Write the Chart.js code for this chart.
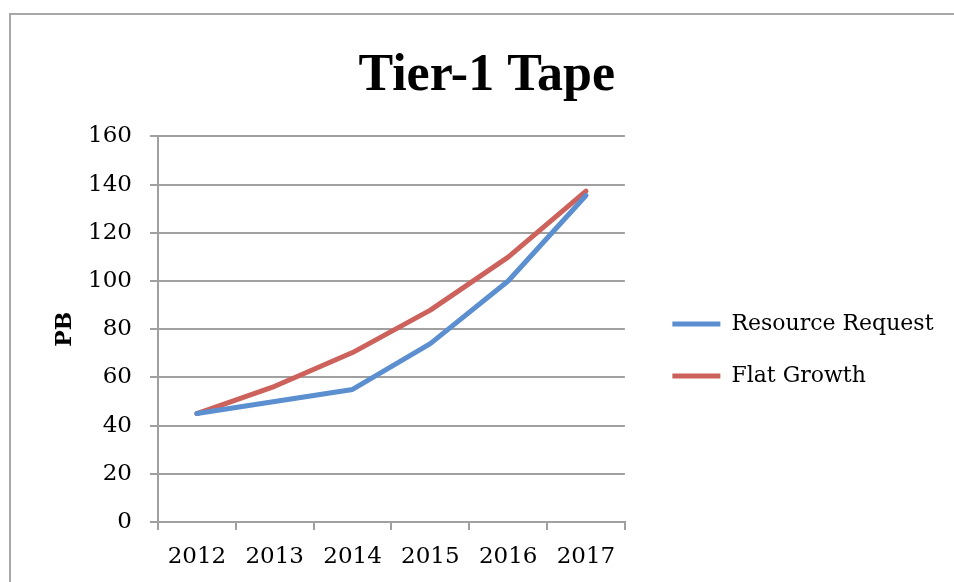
<!DOCTYPE html>
<html>
<head>
<meta charset="utf-8">
<script src="https://cdn.jsdelivr.net/npm/chart.js@4.4.0/dist/chart.umd.min.js"></script>
<style>
  html, body { margin: 0; padding: 0; background: #ffffff; overflow: hidden; }
  #frame { position: absolute; left: 9px; top: 13px; width: 1200px; height: 800px; border: 2px solid #a8a8a8; box-sizing: border-box; }
  #wrap { position: absolute; left: 0; top: 0; width: 954px; height: 582px; }
</style>
</head>
<body>
<div id="frame"></div>
<div id="wrap"><canvas id="c" width="954" height="582"></canvas></div>
<script>
const chartTitle = "Tier-1 Tape";
const yAxisTitle = "PB";
const categories = ["2012", "2013", "2014", "2015", "2016", "2017"];
const seriesNames = ["Resource Request", "Flat Growth"];
const resourceRequest = [45, 50, 55, 74, 100, 135.5];
const flatGrowth = [45, 56.3, 70.3, 87.9, 109.9, 137.3];
const yTicks = [0, 20, 40, 60, 80, 100, 120, 140, 160];

const serif = "'DejaVu Serif', serif";
const gridColor = "#a0a0a0";

new Chart(document.getElementById("c"), {
  type: "line",
  data: {
    labels: categories,
    datasets: [
      { label: seriesNames[0], data: resourceRequest, borderColor: "#5b8fcf", backgroundColor: "#5b8fcf",
        borderWidth: 5, pointRadius: 0, borderCapStyle: "round", borderJoinStyle: "round", tension: 0 },
      { label: seriesNames[1], data: flatGrowth, borderColor: "#cd615b", backgroundColor: "#cd615b",
        borderWidth: 5, pointRadius: 0, borderCapStyle: "round", borderJoinStyle: "round", tension: 0 }
    ]
  },
  options: {
    responsive: false,
    animation: false,
    layout: { padding: { left: 30, right: 10.5, top: 14, bottom: 0 } },
    plugins: {
      title: {
        display: true, text: chartTitle, color: "#000",
        font: { family: "'Liberation Serif', serif", size: 52, weight: "bold" },
        padding: { top: 31, bottom: 29 }
      },
      legend: {
        display: true, position: "right", align: "center", maxWidth: 420,
        title: { display: true, text: " ", font: { size: 10 }, padding: { top: 92, bottom: 0 } },
        labels: {
          usePointStyle: true, pointStyle: "line", pointStyleWidth: 48,
          padding: 30, color: "#000",
          font: { family: serif, size: 22 }
        }
      },
      tooltip: { enabled: false }
    },
    scales: {
      x: {
        type: "category", offset: true,
        grid: { display: true, offset: true, drawOnChartArea: false, drawTicks: true, tickLength: 8, color: gridColor, lineWidth: 2 },
        border: { display: true, color: gridColor, width: 2 },
        ticks: { color: "#000", font: { family: serif, size: 23 }, padding: 13, maxRotation: 0 },
        afterFit(s) { s.height = 60; }
      },
      y: {
        min: 0, max: 160,
        afterBuildTicks(s) { s.ticks = yTicks.map(v => ({ value: v })); },
        grid: { color: gridColor, lineWidth: 2, tickLength: 8, drawTicks: true },
        border: { display: true, color: gridColor, width: 2 },
        ticks: { color: "#000", font: { family: serif, size: 23 }, padding: 18 },
        title: { display: true, text: yAxisTitle, color: "#000", font: { family: serif, size: 22, weight: "bold" }, padding: { top: 22, bottom: 0 } },
        afterFit(s) { s.width = 128; }
      },
      yR: {
        position: "right", display: true,
        grid: { display: false }, border: { display: false }, ticks: { display: false },
        afterFit(s) { s.width = 17.5; }
      }
    }
  }
});
</script>
</body>
</html>
